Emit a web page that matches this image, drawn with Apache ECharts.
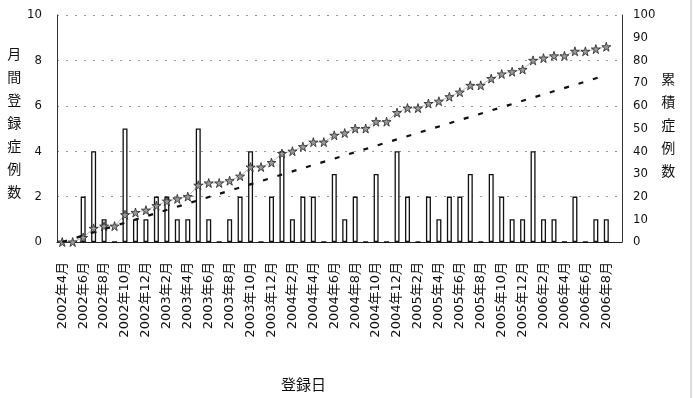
<!DOCTYPE html>
<html>
<head>
<meta charset="utf-8">
<script src="https://cdn.jsdelivr.net/npm/echarts@6/dist/echarts.min.js"></script>
<style>
html,body{margin:0;padding:0;background:#fff;}
#c{width:693px;height:398px;}
</style>
</head>
<body>
<div id="c"></div>
<script>
// Categories: monthly, 2002年4月 .. 2006年9月 (last one empty)
const categories = [
  '2002年4月','2002年5月','2002年6月','2002年7月','2002年8月','2002年9月','2002年10月','2002年11月','2002年12月',
  '2003年1月','2003年2月','2003年3月','2003年4月','2003年5月','2003年6月','2003年7月','2003年8月','2003年9月','2003年10月','2003年11月','2003年12月',
  '2004年1月','2004年2月','2004年3月','2004年4月','2004年5月','2004年6月','2004年7月','2004年8月','2004年9月','2004年10月','2004年11月','2004年12月',
  '2005年1月','2005年2月','2005年3月','2005年4月','2005年5月','2005年6月','2005年7月','2005年8月','2005年9月','2005年10月','2005年11月','2005年12月',
  '2006年1月','2006年2月','2006年3月','2006年4月','2006年5月','2006年6月','2006年7月','2006年8月','2006年9月'
];
// 月間登録症例数 (bars)
const monthly = [
  0,0,2,4,1,0,5,1,1,
  2,2,1,1,5,1,0,1,2,4,0,2,
  4,1,2,2,0,3,1,2,0,3,0,4,
  2,0,2,1,2,2,3,0,3,2,1,1,
  4,1,1,0,2,0,1,1,null
];
// 累積症例数 (stars)
const cumulative = [
  0,0,2,6,7,7,12,13,14,
  16,18,19,20,25,26,26,27,29,33,33,35,
  39,40,42,44,44,47,48,50,50,53,53,57,
  59,59,61,62,64,66,69,69,72,74,75,76,
  80,81,82,82,84,84,85,86,null
];
// dashed straight line endpoints (right axis)
const dashStart = 0;
const dashEnd = 73.5;
const dashEndIndex = 52;

const leftName = ['月','間','登','録','症','例','数'];
const rightName = ['累','積','症','例','数'];

const dashed = categories.map(() => null);
dashed[0] = dashStart;
dashed[dashEndIndex] = dashEnd;

const starPath = 'path://M50,0 L61,35 L98,35 L68,57 L79,91 L50,70 L21,91 L32,57 L2,35 L39,35 Z';
const narrow = '"Liberation Sans Narrow","DejaVu Sans Condensed","Liberation Sans",sans-serif';
const cjk = '"Noto Sans CJK JP","Noto Sans CJK SC",sans-serif';

const vname = arr => arr.map(c => '{a|' + c + '}').join('\n');
const richA = {a:{fontSize:14, lineHeight:23, color:'#111', fontFamily:cjk}};

const chart = echarts.init(document.getElementById('c'), null, {renderer:'canvas'});
chart.setOption({
  backgroundColor:'#fff',
  animation:false,
  title:{
    text:'登録日', left:276, top:372,
    textStyle:{fontSize:15, fontWeight:'normal', color:'#111', fontFamily:cjk}
  },
  graphic:[{type:'line', shape:{x1:691,y1:0,x2:691,y2:398}, style:{stroke:'#bbb', lineWidth:1}}],
  grid:{left:57, right:71, top:15, bottom:156},
  xAxis:{
    type:'category', data:categories, boundaryGap:true,
    axisLine:{show:true, lineStyle:{color:'#222', width:1}},
    axisTick:{show:false},
    axisLabel:{interval:1, rotate:90, margin:20, fontSize:13, color:'#111',
      fontFamily:'"DejaVu Sans","Noto Sans CJK JP",sans-serif'},
    splitLine:{show:false}
  },
  yAxis:[{
    type:'value', min:0, max:10, interval:2, position:'left',
    name:vname(leftName), nameLocation:'middle', nameRotate:0, nameGap:39,
    nameTextStyle:{align:'center', verticalAlign:'middle', padding:[0,0,12,0], rich:richA},
    axisLine:{show:true, lineStyle:{color:'#333', width:1}},
    axisTick:{show:false},
    axisLabel:{fontSize:13, margin:15, color:'#111', fontFamily:narrow},
    splitLine:{show:true, lineStyle:{color:'#999', width:1, type:[2,7]}}
  },{
    type:'value', min:0, max:100, interval:10, position:'right',
    name:vname(rightName), nameLocation:'middle', nameRotate:0, nameGap:46,
    nameTextStyle:{align:'center', verticalAlign:'middle', padding:[0,0,8,0], rich:richA},
    axisLine:{show:true, lineStyle:{color:'#333', width:1}},
    axisTick:{show:false},
    axisLabel:{fontSize:13, margin:11, color:'#111', fontFamily:narrow},
    splitLine:{show:false}
  }],
  series:[{
    type:'bar', yAxisIndex:0, data:monthly, barWidth:5,
    itemStyle:{color:'#fff', borderColor:'#111', borderWidth:1.3}
  },{
    type:'line', yAxisIndex:1, data:cumulative,
    symbol:starPath, symbolSize:9, showSymbol:true, showAllSymbol:true,
    lineStyle:{color:'#999', width:0.7},
    itemStyle:{color:'#9a9a9a', borderColor:'#222', borderWidth:0.8},
    z:3
  },{
    type:'line', yAxisIndex:1, data:dashed, connectNulls:true,
    symbol:'none',
    lineStyle:{color:'#111', width:2.2, type:[5,10]},
    z:4
  }]
});
</script>
</body>
</html>
